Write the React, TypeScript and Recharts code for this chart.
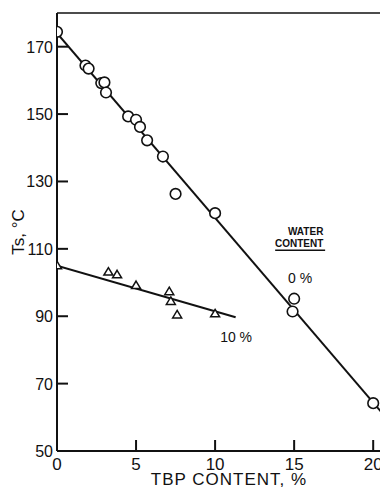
import { ScatterChart, Scatter, XAxis, YAxis, ReferenceLine, ReferenceDot, Label } from 'recharts';

// 0 % water (circles)
const tbp0 = [0, 1.8, 2.0, 2.8, 3.0, 3.1, 4.5, 5.0, 5.25, 5.7, 6.7, 7.5, 10, 14.9, 15, 20];
const ts0 = [174.4, 164.4, 163.5, 159.2, 159.4, 156.4, 149.3, 148.3, 146.2, 142.2, 137.4, 126.3, 120.6, 91.4, 95.2, 64.2];

// 10 % water (triangles)
const tbp10 = [0, 3.25, 3.8, 5.0, 7.1, 7.2, 7.6, 10];
const ts10 = [105, 103.1, 102.3, 99.1, 97.3, 94.4, 90.4, 90.7];

// hand-drawn fit lines
const fit0X = [0, 21];
const fit0Y = [174, 58.9];
const fit10X = [0, 11.3];
const fit10Y = [105, 89.7];

const xTicks = [0, 5, 10, 15, 20];
const yTicks = [50, 70, 90, 110, 130, 150, 170];

const toPoints = (xs: number[], ys: number[]) => xs.map((x, i) => ({ x, y: ys[i] }));

const ink = '#111';
const font = '"Liberation Sans", Arial, sans-serif';

const YTick = ({ x, y, payload }: any) => (
  <g>
    <line x1={x} y1={y} x2={x + 11} y2={y} stroke={ink} strokeWidth={2} />
    <text x={x - 4} y={y} dy={6} textAnchor="end" fontSize={16} fill={ink} fontFamily={font}>
      {payload.value}
    </text>
  </g>
);

const XTick = ({ x, y, payload }: any) => (
  <g>
    <line x1={x} y1={y} x2={x} y2={y - 11} stroke={ink} strokeWidth={2} />
    <text x={x} y={y + 18.5} textAnchor="middle" fontSize={17} fill={ink} fontFamily={font}>
      {payload.value}
    </text>
  </g>
);

const Circle = ({ cx, cy }: any) => (
  <circle cx={cx} cy={cy} r={5.3} fill="#fff" stroke={ink} strokeWidth={1.6} />
);

const Triangle = ({ cx, cy }: any) => (
  <path d={`M${cx},${cy - 4.5} L${cx + 4.5},${cy + 3} L${cx - 4.5},${cy + 3} Z`} fill="#fff" stroke={ink} strokeWidth={1.5} />
);

const NoDot = () => <g />;

const note = (value: string, size: number, bold = false) => ({
  value,
  position: 'center' as const,
  fill: ink,
  fontSize: size,
  fontWeight: bold ? 700 : 400,
  fontFamily: font,
});

export default function App() {
  return (
    <div style={{ position: 'fixed', left: 0, top: 0, width: 380, height: 488, overflow: 'hidden', background: '#fff' }}>
      <ScatterChart width={400} height={488} margin={{ top: 13, right: 11, bottom: 0, left: 0 }}>
        <XAxis
          type="number"
          dataKey="x"
          domain={[0, 21]}
          ticks={xTicks}
          height={37}
          tickSize={0}
          tickMargin={0}
          tickLine={false}
          tick={<XTick />}
          axisLine={{ stroke: ink, strokeWidth: 2 }}
          allowDataOverflow
        >
          <Label
            content={() => (
              <text x={229} y={485} textAnchor="middle" fontSize={17} letterSpacing={1} fill={ink} fontFamily={font}>
                TBP CONTENT, %
              </text>
            )}
          />
        </XAxis>
        <YAxis
          type="number"
          dataKey="y"
          domain={[50, 180]}
          ticks={yTicks}
          width={57}
          tickSize={0}
          tickMargin={0}
          tickLine={false}
          tick={<YTick />}
          axisLine={{ stroke: ink, strokeWidth: 2 }}
          allowDataOverflow
        >
          <Label
            content={() => (
              <text x={24} y={232} transform="rotate(-90 24 232)" textAnchor="middle" fontSize={17} fill={ink} fontFamily={font}>
                Ts, °C
              </text>
            )}
          />
        </YAxis>
        <ReferenceLine y={180} stroke={ink} strokeWidth={1.5} />

        <Scatter data={toPoints(fit0X, fit0Y)} line={{ stroke: ink, strokeWidth: 2 }} shape={<NoDot />} isAnimationActive={false} />
        <Scatter data={toPoints(fit10X, fit10Y)} line={{ stroke: ink, strokeWidth: 2 }} shape={<NoDot />} isAnimationActive={false} />
        <Scatter data={toPoints(tbp0, ts0)} shape={<Circle />} isAnimationActive={false} />
        <Scatter data={toPoints(tbp10, ts10)} shape={<Triangle />} isAnimationActive={false} />

        <ReferenceDot x={15.73} y={115.1} r={0} stroke="none" label={note('WATER', 10, true)} />
        <ReferenceDot x={15.32} y={111.6} r={0} stroke="none" label={note('CONTENT', 10, true)} />
        <ReferenceLine segment={[{ x: 13.8, y: 109.6 }, { x: 16.96, y: 109.6 }]} stroke={ink} strokeWidth={1.5} />
        <ReferenceDot x={15.38} y={101.4} r={0} stroke="none" label={note('0 %', 14)} />
        <ReferenceDot x={11.33} y={83.8} r={0} stroke="none" label={note('10 %', 14)} />
      </ScatterChart>
    </div>
  );
}
